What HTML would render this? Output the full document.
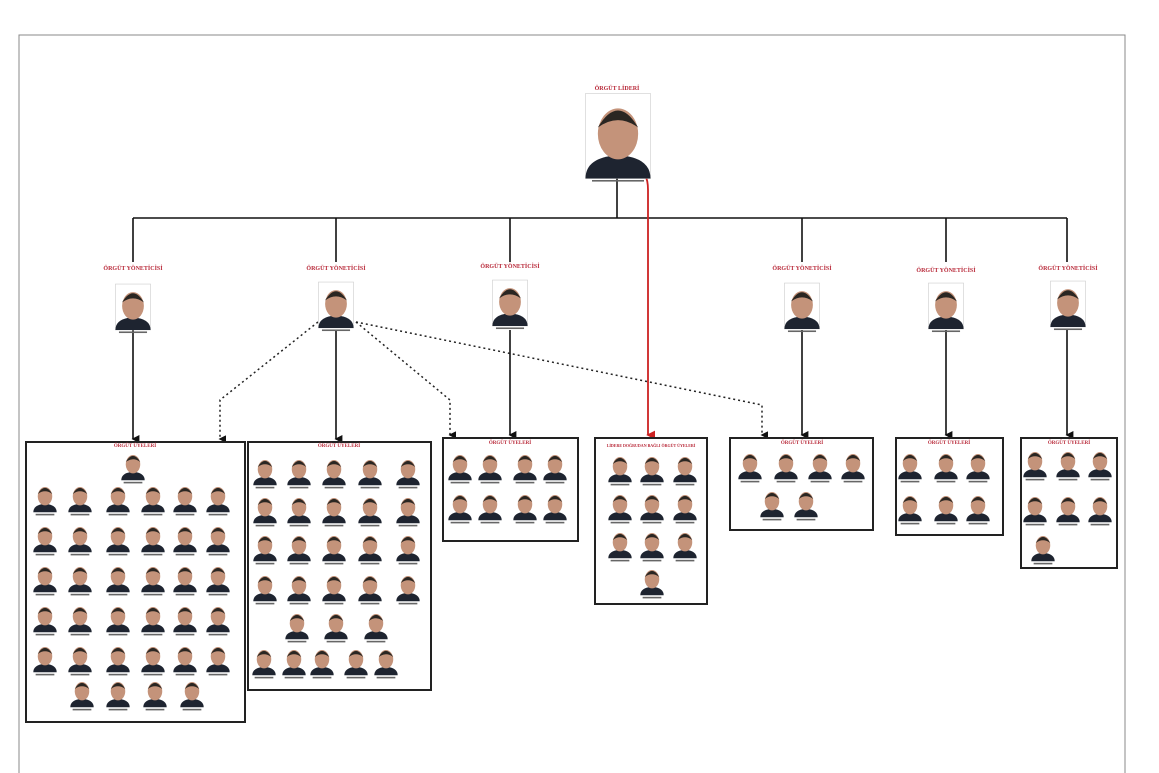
<!DOCTYPE html>
<html><head><meta charset="utf-8"><style>
body{margin:0;background:#fff;width:1159px;height:773px;overflow:hidden;font-family:"Liberation Serif",serif}
.l{position:absolute;color:#b82838;font-size:6px;font-weight:bold;white-space:nowrap;transform:translateX(-50%)}
</style></head><body>
<svg id="s" width="1159" height="773" style="position:absolute;left:0;top:0" xmlns="http://www.w3.org/2000/svg">
<defs><marker id="a" markerWidth="5" markerHeight="5" refX="2.5" refY="4" orient="auto"><path d="M0,0 L5,0 L2.5,5z" fill="#111"/></marker>
<marker id="r" markerWidth="5" markerHeight="5" refX="2.5" refY="4" orient="auto"><path d="M0,0 L5,0 L2.5,5z" fill="#c22"/></marker></defs>
<path d="M19,773 V35 H1125 V773" fill="none" stroke="#888" stroke-width="1"/>
<g stroke="#111" stroke-width="1.6" fill="none">
<line x1="617" y1="175" x2="617" y2="218"/>
<line x1="133" y1="218" x2="1067" y2="218"/>
<line x1="133" y1="218" x2="133" y2="262"/><line x1="336" y1="218" x2="336" y2="262"/><line x1="510" y1="218" x2="510" y2="262"/><line x1="802" y1="218" x2="802" y2="262"/><line x1="946" y1="218" x2="946" y2="262"/><line x1="1067" y1="218" x2="1067" y2="262"/>
<line x1="133" y1="330" x2="133" y2="439" marker-end="url(#a)"/>
<line x1="336" y1="330" x2="336" y2="439" marker-end="url(#a)"/>
<line x1="510" y1="330" x2="510" y2="435" marker-end="url(#a)"/>
<line x1="802" y1="330" x2="802" y2="435" marker-end="url(#a)"/>
<line x1="946" y1="330" x2="946" y2="435" marker-end="url(#a)"/>
<line x1="1067" y1="330" x2="1067" y2="435" marker-end="url(#a)"/>
</g>
<path d="M645,175 Q648,180 648,190 V435" stroke="#c22" stroke-width="1.8" fill="none" marker-end="url(#r)"/>
<g stroke="#222" stroke-width="1.5" fill="none" stroke-dasharray="2,3">
<path d="M318,322 L220,400 V439" marker-end="url(#a)"/>
<path d="M356,322 L450,400 V435" marker-end="url(#a)"/>
<path d="M356,322 L762,405 V435" marker-end="url(#a)"/>
</g>
<g stroke="#222" stroke-width="2" fill="#fff">
<rect x="26" y="442" width="219" height="280"/>
<rect x="248" y="442" width="183" height="248"/>
<rect x="443" y="438" width="135" height="103"/>
<rect x="595" y="438" width="112" height="166"/>
<rect x="730" y="438" width="143" height="92"/>
<rect x="896" y="438" width="107" height="97"/>
<rect x="1021" y="438" width="96" height="130"/>
</g>
<g id="f"></g>
</svg>
<div class="l" style="left:617px;top:86px">ÖRGÜT LİDERİ</div>
<div class="l" style="left:133px;top:266px">ÖRGÜT YÖNETİCİSİ</div>
<div class="l" style="left:336px;top:266px">ÖRGÜT YÖNETİCİSİ</div>
<div class="l" style="left:510px;top:264px">ÖRGÜT YÖNETİCİSİ</div>
<div class="l" style="left:802px;top:266px">ÖRGÜT YÖNETİCİSİ</div>
<div class="l" style="left:946px;top:268px">ÖRGÜT YÖNETİCİSİ</div>
<div class="l" style="left:1068px;top:266px">ÖRGÜT YÖNETİCİSİ</div>
<div class="l" style="left:135px;top:444px;font-size:5px">ÖRGÜT ÜYELERİ</div>
<div class="l" style="left:339px;top:444px;font-size:5px">ÖRGÜT ÜYELERİ</div>
<div class="l" style="left:510px;top:441px;font-size:5px">ÖRGÜT ÜYELERİ</div>
<div class="l" style="left:651px;top:443px;font-size:4px">LİDERE DOĞRUDAN BAĞLI ÖRGÜT ÜYELERİ</div>
<div class="l" style="left:802px;top:441px;font-size:5px">ÖRGÜT ÜYELERİ</div>
<div class="l" style="left:949px;top:441px;font-size:5px">ÖRGÜT ÜYELERİ</div>
<div class="l" style="left:1069px;top:441px;font-size:5px">ÖRGÜT ÜYELERİ</div>
<script>
var g=document.getElementById('f'),h='';
function face(cx,cy,s,fr){var w=13*s,hh=17*s;
if(fr)h+='<rect x="'+(cx-w)+'" y="'+(cy-hh)+'" width="'+2*w+'" height="'+2*hh+'" fill="#fff" stroke="#ccc" stroke-width="0.6"/>';
h+='<path d="M'+(cx-w)+','+(cy+hh)+' Q'+(cx-w)+','+(cy+hh*0.5)+' '+cx+','+(cy+hh*0.45)+' Q'+(cx+w)+','+(cy+hh*0.5)+' '+(cx+w)+','+(cy+hh)+'z" fill="#1e2430"/>';
h+='<ellipse cx="'+cx+'" cy="'+(cy-hh*0.05)+'" rx="'+(w*0.62)+'" ry="'+(hh*0.6)+'" fill="#c4937a"/>';
h+='<path d="M'+(cx-w*0.62)+','+(cy-hh*0.2)+' Q'+cx+','+(cy-hh*1.0)+' '+(cx+w*0.62)+','+(cy-hh*0.2)+' Q'+cx+','+(cy-hh*0.55)+' '+(cx-w*0.62)+','+(cy-hh*0.2)+'z" fill="#2a2622"/>';
h+='<rect x="'+(cx-w*0.8)+'" y="'+(cy+hh+1.5)+'" width="'+1.6*w+'" height="1.6" fill="#666"/>';}
face(618,136,2.5,1);
[[133,307],[336,305],[510,303],[802,306],[946,306],[1068,304]].forEach(p=>face(p[0],p[1],1.35,1));
var S=0.9;
face(133,465,S);
[497,537,577,617,657].forEach(y=>[45,80,118,153,185,218].forEach(x=>face(x,y,S)));
[82,118,155,192].forEach(x=>face(x,692,S));
[470,508,546,586].forEach(y=>[265,299,334,370,408].forEach(x=>face(x,y,S)));
[297,336,376].forEach(x=>face(x,624,S));
[264,294,322,356,386].forEach(x=>face(x,660,S));
[465,505].forEach(y=>[460,490,525,555].forEach(x=>face(x,y,S)));
[467,505,543].forEach(y=>[620,652,685].forEach(x=>face(x,y,S)));face(652,580,S);
[750,786,820,853].forEach(x=>face(x,464,S));[772,806].forEach(x=>face(x,502,S));
[464,506].forEach(y=>[910,946,978].forEach(x=>face(x,y,S)));
[462,507].forEach(y=>[1035,1068,1100].forEach(x=>face(x,y,S)));face(1043,546,S);
g.innerHTML=h;
</script>
</body></html>
